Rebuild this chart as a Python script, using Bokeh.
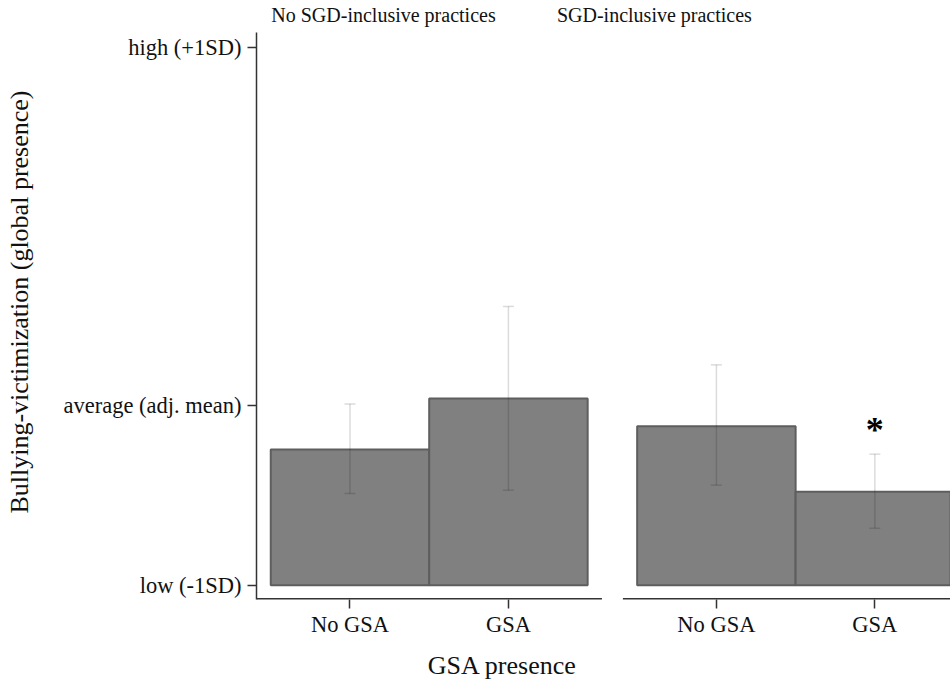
from bokeh.plotting import figure
from bokeh.models import ColumnDataSource, FixedTicker, Whisker, TeeHead, Label, Range1d, LinearAxis
from bokeh.embed import file_html
from bokeh.resources import INLINE

# ---- data ----
panel_titles = ["No SGD-inclusive practices", "SGD-inclusive practices"]
gsa_categories = ["No GSA", "GSA"]
means_no_sgd = [0.757, 1.041]
means_sgd = [0.887, 0.521]
lower_no_sgd = [0.512, 0.530]
upper_no_sgd = [1.011, 1.555]
lower_sgd = [0.558, 0.317]
upper_sgd = [1.229, 0.731]
signif_no_sgd = ["", ""]
signif_sgd = ["", "*"]
y_tick_values = [0, 1, 3]
y_tick_labels = ["low (-1SD)", "average (adj. mean)", "high (+1SD)"]
x_axis_title = "GSA presence"
y_axis_title = "Bullying-victimization (global presence)"

# ---- layout constants ----
W, H = 950, 682
BL, BT, BB = 256, 30, 82
SHIFT = 2.3125   # offset of second panel (in bar widths)
PAD = 0.59       # panel padding around bars
X_END = 3.79
Y0, Y1 = -0.08, 3.083
FONT = "Liberation Serif"
AX = "#333333"
PX_PER_UNIT_X = (W - BL) / (X_END + PAD)
PX_PER_UNIT_Y = (H - BT - BB) / (Y1 - Y0)
title_px_from_panel = [127, 31.5]     # title centre, px right of each panel's left edge
xtitle_px_from_panel = 246            # x-axis title centre, px right of first panel's left edge
ytitle_px_above_bottom = 299          # y-axis title centre, px above the frame bottom

means = [means_no_sgd, means_sgd]
lowers = [lower_no_sgd, lower_sgd]
uppers = [upper_no_sgd, upper_sgd]
signifs = [signif_no_sgd, signif_sgd]

xs, tops, los, ups, labs, sigs = [], [], [], [], [], []
for pi in range(2):
    for ci, cat in enumerate(gsa_categories):
        xs.append(pi * SHIFT + ci)
        tops.append(means[pi][ci])
        los.append(lowers[pi][ci])
        ups.append(uppers[pi][ci])
        labs.append(cat)
        sigs.append(signifs[pi][ci])

src = ColumnDataSource(dict(x=xs, top=tops, lower=los, upper=ups))

p = figure(width=W, height=H, x_range=Range1d(-PAD, X_END), y_range=Range1d(Y0, Y1),
           output_backend="svg", toolbar_location=None,
           min_border_left=BL, min_border_right=0, min_border_top=BT, min_border_bottom=BB)
p.outline_line_color = None
p.xgrid.grid_line_color = None
p.ygrid.grid_line_color = None
p.background_fill_color = "white"
p.border_fill_color = "white"

# bars
p.vbar(x="x", top="top", bottom=0, width=1, source=src,
       fill_color="#808080", line_color="#5e5e5e", line_width=2)

# error bars
head_kw = dict(size=11, line_color="black", line_alpha=0.14, line_width=1.5)
wh = Whisker(base="x", upper="upper", lower="lower", source=src,
             line_color="black", line_alpha=0.14, line_width=1.5,
             upper_head=TeeHead(**head_kw), lower_head=TeeHead(**head_kw))
wh.level = "overlay"
p.add_layout(wh)

# significance marks
for x, u, s in zip(xs, ups, sigs):
    if s:
        p.add_layout(Label(x=x, y=u, text=s, text_font=FONT, text_font_size="36px",
                           text_font_style="bold", text_align="center",
                           text_baseline="middle", y_offset=24, text_color="black"))

# panel x-axis lines
p.segment(x0=[-PAD, SHIFT - PAD], x1=[1 + PAD, SHIFT + 1 + PAD + 1],
          y0=[Y0, Y0], y1=[Y0, Y0], line_color=AX, line_width=3)

# x axis (category ticks)
p.xaxis.ticker = FixedTicker(ticks=xs)
p.xaxis.major_label_overrides = {x: l for x, l in zip(xs, labs)}
p.xaxis.axis_line_color = None
p.xaxis.major_tick_out = 9
p.xaxis.major_tick_in = 0
p.xaxis.major_tick_line_color = AX
p.xaxis.major_tick_line_width = 1.5
p.xaxis.minor_tick_line_color = None
p.xaxis.major_label_text_font = FONT
p.xaxis.major_label_text_font_size = "22.5px"
p.xaxis.major_label_text_color = "#111111"
p.xaxis.major_label_standoff = 3

plain_axis = dict(axis_line_color=None, major_tick_line_color=None, minor_tick_line_color=None,
                  major_tick_out=0, major_tick_in=0, major_label_text_font=FONT,
                  major_label_text_color="#111111")

# x-axis title, placed as the single label of a second (line-less) axis
xt = [-PAD + xtitle_px_from_panel / PX_PER_UNIT_X]
ax_t = LinearAxis(ticker=FixedTicker(ticks=xt), major_label_overrides={xt[0]: x_axis_title},
                  major_label_standoff=11, major_label_text_font_size="26px", **plain_axis)
p.add_layout(ax_t, "below")

# panel titles, as labels of a line-less axis above
tt = [pi * SHIFT - PAD + title_px_from_panel[pi] / PX_PER_UNIT_X for pi in range(2)]
ax_top = LinearAxis(ticker=FixedTicker(ticks=tt),
                    major_label_overrides={t: s for t, s in zip(tt, panel_titles)},
                    major_label_standoff=7, major_label_text_font_size="20px", **plain_axis)
p.add_layout(ax_top, "above")

# y axis
p.yaxis.ticker = FixedTicker(ticks=y_tick_values)
p.yaxis.major_label_overrides = {v: l for v, l in zip(y_tick_values, y_tick_labels)}
p.yaxis.axis_line_color = AX
p.yaxis.axis_line_width = 1.5
p.yaxis.major_tick_out = 9
p.yaxis.major_tick_in = 0
p.yaxis.major_tick_line_color = AX
p.yaxis.major_tick_line_width = 1.5
p.yaxis.minor_tick_line_color = None
p.yaxis.major_label_text_font = FONT
p.yaxis.major_label_text_font_size = "22.5px"
p.yaxis.major_label_text_color = "#111111"
p.yaxis.major_label_standoff = 6

# y-axis title, as the single (vertical) label of a second line-less axis
yt = [Y0 + ytitle_px_above_bottom / PX_PER_UNIT_Y]
ax_y = LinearAxis(ticker=FixedTicker(ticks=yt), major_label_overrides={yt[0]: y_axis_title},
                  major_label_orientation="vertical", major_label_standoff=26,
                  major_label_text_font_size="26px", **plain_axis)
p.add_layout(ax_y, "left")

open("out.html", "w").write(file_html(p, INLINE))
